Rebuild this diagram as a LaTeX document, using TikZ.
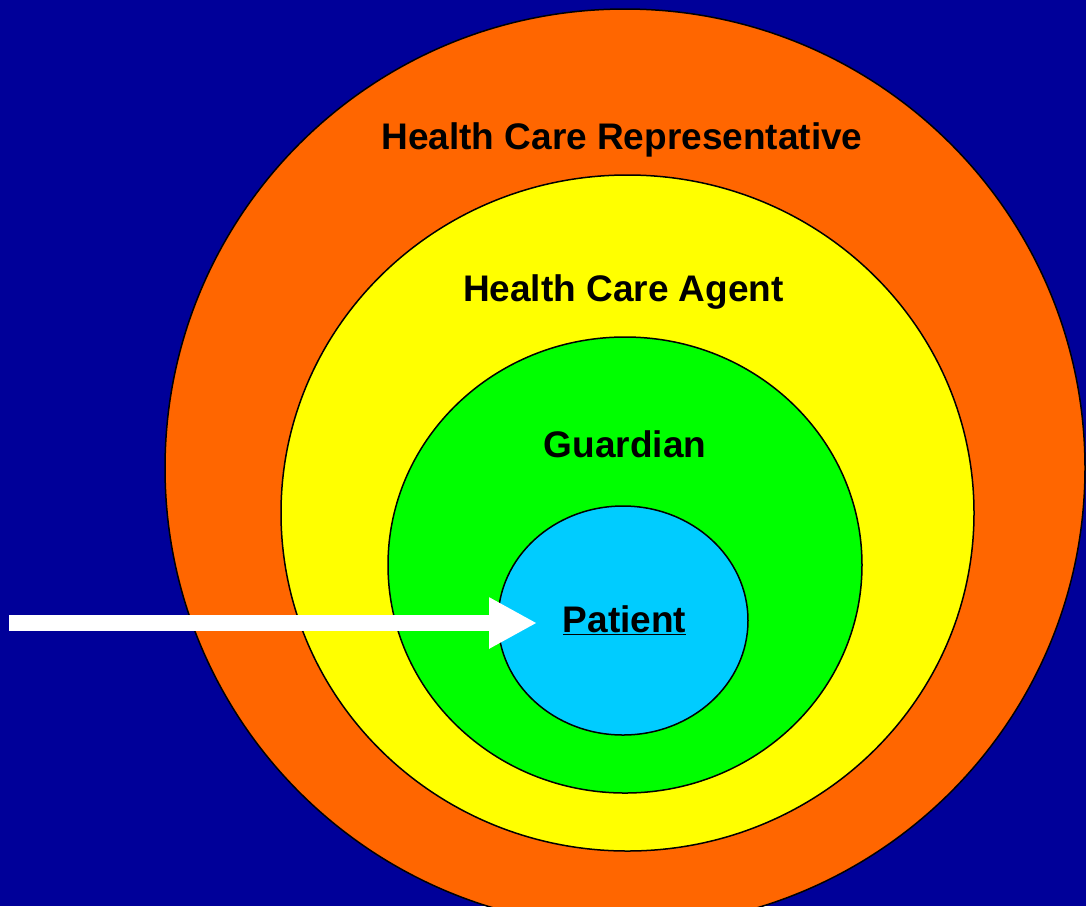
\documentclass[tikz,border=0pt]{standalone}
\usepackage{fontspec}
\setmainfont{Liberation Sans}
\usepackage{tikz}
\usetikzlibrary{arrows.meta}
\usetikzlibrary{shapes.geometric}
\usetikzlibrary{positioning}
\definecolor{BackColor}{RGB}{0,0,153}
\definecolor{RepColor}{RGB}{255,102,0}
\definecolor{AgentColor}{RGB}{255,255,0}
\definecolor{GuardColor}{RGB}{0,255,0}
\definecolor{PatientColor}{RGB}{0,204,255}

\begin{document}
\begin{tikzpicture}[x=1pt, y=-1pt,
        ring/.style={draw=black, line width=1.5pt, ellipse, inner sep=0pt, outer sep=0pt, fill=#1},
        role/.style={anchor=base, inner sep=0pt, font=\fontsize{37}{44}\selectfont\bfseries},
        bigarrow/.style={white, line width=16pt, -{Triangle[length=48pt, width=48pt]}}
    ]
        % background and bounding box
        \fill[BackColor] (0,0) rectangle (1086,906);
        \useasboundingbox (0,0) rectangle (1086,906);

        % nested rings
        \node[ring=RepColor, minimum width=920pt, minimum height=918pt] (rep) at (625,468) {};
        \node[ring=AgentColor, minimum width=693pt, minimum height=676pt] (agent) at (627.5,513) {};
        \node[ring=GuardColor, minimum width=474pt, minimum height=456pt] (guard) at (625,565) {};
        \node[ring=PatientColor, minimum width=250pt, minimum height=229pt] (patient) at (623,620.5) {};

        % labels
        \node[role] (replabel) at (622,149) {Health Care Representative};
        \node[role] (agentlabel) at (623.5,301) {Health Care Agent};
        \node[role] (guardlabel) at (625,457) {Guardian};
        \node[role] (patientlabel) at (624.5,632) {\underline{Patient}};

        % arrow pointing at the patient
        \coordinate (arrowstart) at (9,623);
        \coordinate (arrowtip) at (537,623);
        \draw[bigarrow] (arrowstart) -- (arrowtip);

    \end{tikzpicture}
\end{document}
